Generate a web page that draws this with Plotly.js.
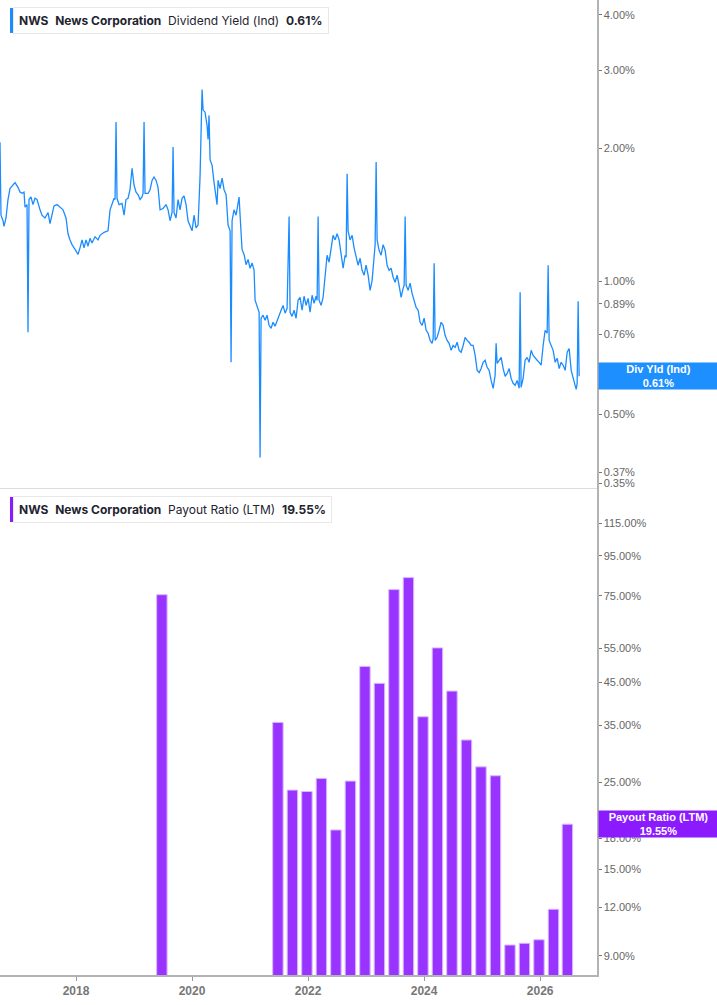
<!DOCTYPE html>
<html>
<head>
<meta charset="utf-8">
<script src="https://cdn.plot.ly/plotly-3.0.1.min.js"></script>
<style>
  html, body { margin: 0; padding: 0; background: #fff; }
  #chart { width: 717px; height: 1005px; }
</style>
</head>
<body>
<div id="chart"></div>
<script>
// Dividend yield (Ind), %, decimal years
const yieldYears = [
  2016.690,2016.707,2016.742,2016.759,2016.793,2016.828,2016.862,2016.914,2016.949,2017.000,
  2017.035,2017.069,2017.104,2017.121,2017.156,2017.173,2017.190,2017.224,2017.259,2017.293,
  2017.328,2017.380,2017.414,2017.466,2017.518,2017.552,2017.587,2017.621,2017.673,2017.724,
  2017.776,2017.828,2017.862,2017.897,2017.931,2017.983,2018.035,2018.069,2018.104,2018.138,
  2018.173,2018.207,2018.242,2018.276,2018.328,2018.380,2018.414,2018.483,2018.552,2018.587,
  2018.621,2018.656,2018.673,2018.690,2018.707,2018.742,2018.793,2018.828,2018.862,2018.897,
  2018.931,2018.966,2019.000,2019.035,2019.069,2019.104,2019.138,2019.156,2019.173,2019.190,
  2019.242,2019.276,2019.311,2019.345,2019.380,2019.414,2019.449,2019.500,2019.552,2019.587,
  2019.621,2019.656,2019.673,2019.690,2019.724,2019.759,2019.793,2019.828,2019.862,2019.897,
  2019.931,2019.966,2020.000,2020.035,2020.069,2020.104,2020.138,2020.173,2020.190,2020.224,
  2020.259,2020.276,2020.293,2020.311,2020.345,2020.380,2020.414,2020.431,2020.449,2020.483,
  2020.518,2020.552,2020.587,2020.621,2020.656,2020.673,2020.690,2020.724,2020.759,2020.793,
  2020.811,2020.828,2020.862,2020.897,2020.931,2020.966,2021.000,2021.035,2021.069,2021.087,
  2021.121,2021.156,2021.173,2021.190,2021.224,2021.259,2021.293,2021.328,2021.362,2021.397,
  2021.431,2021.466,2021.500,2021.535,2021.569,2021.604,2021.638,2021.673,2021.690,2021.724,
  2021.759,2021.793,2021.828,2021.862,2021.897,2021.931,2021.966,2022.000,2022.035,2022.069,
  2022.104,2022.138,2022.156,2022.173,2022.190,2022.224,2022.259,2022.293,2022.328,2022.362,
  2022.397,2022.431,2022.466,2022.500,2022.535,2022.569,2022.604,2022.638,2022.656,2022.673,
  2022.690,2022.724,2022.759,2022.793,2022.828,2022.862,2022.897,2022.931,2022.966,2023.000,
  2023.035,2023.069,2023.104,2023.138,2023.156,2023.173,2023.190,2023.224,2023.259,2023.293,
  2023.328,2023.362,2023.397,2023.431,2023.466,2023.500,2023.535,2023.569,2023.604,2023.638,
  2023.656,2023.673,2023.690,2023.724,2023.759,2023.793,2023.828,2023.862,2023.897,2023.931,
  2023.966,2024.000,2024.035,2024.069,2024.104,2024.138,2024.156,2024.173,2024.190,2024.224,
  2024.259,2024.293,2024.328,2024.362,2024.397,2024.431,2024.466,2024.500,2024.535,2024.569,
  2024.604,2024.638,2024.673,2024.707,2024.742,2024.776,2024.811,2024.845,2024.880,2024.914,
  2024.949,2024.983,2025.017,2025.052,2025.086,2025.121,2025.155,2025.190,2025.224,2025.241,
  2025.259,2025.293,2025.328,2025.362,2025.397,2025.431,2025.466,2025.500,2025.535,2025.569,
  2025.604,2025.638,2025.655,2025.672,2025.707,2025.741,2025.776,2025.810,2025.845,2025.879,
  2025.914,2025.948,2025.983,2026.017,2026.052,2026.086,2026.121,2026.138,2026.155,2026.190,
  2026.224,2026.259,2026.293,2026.328,2026.362,2026.397,2026.431,2026.466,2026.500,2026.535,
  2026.569,2026.604,2026.621,2026.638,2026.655,2026.672
];
const yieldPct = [
  2.06,1.41,1.37,1.33,1.39,1.53,1.62,1.65,1.67,1.63,
  1.59,1.58,1.59,1.47,1.49,0.767,1.53,1.55,1.49,1.54,
  1.53,1.45,1.41,1.39,1.43,1.35,1.41,1.48,1.49,1.47,
  1.45,1.39,1.28,1.24,1.21,1.18,1.15,1.19,1.24,1.19,
  1.24,1.20,1.25,1.22,1.26,1.24,1.27,1.29,1.30,1.45,
  1.49,1.54,1.53,2.29,1.54,1.49,1.50,1.41,1.53,1.54,
  1.61,1.80,1.65,1.59,1.57,1.53,1.55,1.58,2.29,1.58,
  1.58,1.61,1.69,1.72,1.69,1.63,1.45,1.46,1.49,1.45,
  1.37,1.43,2.01,1.43,1.39,1.53,1.45,1.54,1.56,1.49,
  1.37,1.34,1.30,1.41,1.32,1.34,1.72,2.71,2.44,2.41,
  2.25,2.09,2.37,1.88,1.83,1.67,1.57,1.49,1.69,1.62,
  1.71,1.61,1.57,1.34,1.30,0.656,1.37,1.45,1.41,1.49,
  1.55,1.41,1.18,1.15,1.09,1.12,1.07,1.10,1.06,0.906,
  0.882,0.851,0.400,0.825,0.838,0.816,0.838,0.795,0.783,0.808,
  0.791,0.816,0.833,0.860,0.882,0.847,0.869,1.40,0.851,0.833,
  0.860,0.825,0.906,0.920,0.860,0.925,0.882,0.915,0.851,0.930,
  0.892,0.925,0.906,1.40,0.906,0.882,0.920,1.016,1.145,1.104,
  1.175,1.27,1.24,1.28,1.24,1.16,1.07,1.145,1.133,1.75,
  1.30,1.24,1.27,1.19,1.145,1.087,1.127,1.059,1.032,1.087,
  1.032,0.954,1.005,1.175,1.21,1.86,1.24,1.175,1.145,1.21,
  1.175,1.087,1.059,1.07,1.021,0.995,1.032,0.979,0.920,0.964,
  0.979,1.40,0.979,0.954,0.990,0.939,0.906,0.873,0.860,0.808,
  0.795,0.825,0.775,0.763,0.735,0.724,0.743,1.098,0.735,0.747,
  0.775,0.808,0.795,0.755,0.735,0.724,0.698,0.716,0.709,0.728,
  0.698,0.691,0.716,0.747,0.735,0.728,0.716,0.716,0.680,0.629,
  0.622,0.635,0.656,0.663,0.639,0.629,0.597,0.573,0.613,0.724,
  0.652,0.663,0.673,0.635,0.610,0.619,0.635,0.603,0.588,0.582,
  0.597,0.573,0.944,0.576,0.603,0.663,0.673,0.656,0.698,0.680,
  0.670,0.663,0.656,0.646,0.716,0.775,0.763,1.087,0.735,0.716,
  0.698,0.656,0.670,0.635,0.656,0.646,0.629,0.691,0.705,0.629,
  0.603,0.582,0.570,0.588,0.901,0.61
];

// Payout ratio (LTM), % - quarterly bars
const payoutYears = [2019.48, 2021.48, 2021.73, 2021.98, 2022.23, 2022.48, 2022.73, 2022.98,
  2023.23, 2023.48, 2023.73, 2023.98, 2024.23, 2024.48, 2024.73, 2024.98,
  2025.23, 2025.48, 2025.73, 2025.98, 2026.23, 2026.47];
const payoutPct = [75.5, 35.6, 23.9, 23.7, 25.6, 18.9, 25.2, 49.5,
  44.8, 77.8, 83.5, 36.8, 55.2, 42.8, 32.1, 27.4,
  26.0, 9.6, 9.7, 9.9, 11.85, 19.55];

// axis ticks
const yieldTicks = [4, 3, 2, 1, 0.89, 0.76, 0.63, 0.5, 0.37, 0.35];
const payoutTicks = [115, 95, 75, 55, 45, 35, 25, 18, 15, 12, 9];
const yearTicks = [2018, 2020, 2022, 2024, 2026];

const blue = '#1a8cff';
const purple = '#9933ff';
const pct = v => v.toFixed(2) + '%';

const tickFont = {family: 'Liberation Sans, Arial, sans-serif', size: 11, color: '#666'};
const xRange = [2016.69, 2026.98];

const traces = [
  {
    x: yieldYears, y: yieldPct, xaxis: 'x', yaxis: 'y',
    type: 'scatter', mode: 'lines',
    line: {color: blue, width: 1.3},
    hoverinfo: 'skip'
  },
  {
    x: payoutYears, y: payoutPct, xaxis: 'x2', yaxis: 'y2',
    type: 'bar', width: 0.18,
    marker: {color: purple, line: {color: '#d9b8ff', width: 1}},
    hoverinfo: 'skip'
  }
];

const legendFont = {family: 'Inter, Noto Sans, sans-serif', size: 12, color: '#1f2430'};
const sp = '&nbsp;&nbsp;';

const layout = {
  width: 717, height: 1005,
  margin: {l: 0, r: 120, t: 0, b: 30},
  paper_bgcolor: '#fff', plot_bgcolor: '#fff',
  showlegend: false,
  xaxis: {
    domain: [0, 1], anchor: 'y', range: xRange,
    showticklabels: false, ticks: '', showgrid: false, zeroline: false,
    showline: true, linecolor: '#dddddd', linewidth: 1
  },
  yaxis: {
    domain: [0.5, 1], anchor: 'x', type: 'log', range: [-0.466, 0.6355],
    side: 'right', showgrid: false, zeroline: false,
    showline: true, linecolor: '#b3b3b3', linewidth: 1.5,
    ticks: 'outside', ticklen: 3, tickcolor: '#777',
    tickvals: yieldTicks, ticktext: yieldTicks.map(pct), tickfont: tickFont
  },
  xaxis2: {
    domain: [0, 1], anchor: 'y2', range: xRange,
    tickvals: yearTicks, ticktext: yearTicks.map(String),
    tickfont: {family: 'Liberation Sans, Arial, sans-serif', size: 12, color: '#777', weight: 'bold'},
    ticks: 'outside', ticklen: 4, tickcolor: '#999',
    showgrid: false, zeroline: false,
    showline: true, linecolor: '#b3b3b3', linewidth: 1.5
  },
  yaxis2: {
    domain: [0, 0.5], anchor: 'x2', type: 'log', range: [0.9056, 2.152],
    side: 'right', showgrid: false, zeroline: false,
    showline: true, linecolor: '#b3b3b3', linewidth: 1.5,
    ticks: 'outside', ticklen: 3, tickcolor: '#777',
    tickvals: payoutTicks, ticktext: payoutTicks.map(pct), tickfont: tickFont
  },
  shapes: [
    {type: 'rect', xref: 'paper', yref: 'paper', x0: 10 / 597, x1: 13.5 / 597, y0: 0.9662, y1: 0.9918,
      fillcolor: blue, line: {width: 0}},
    {type: 'rect', xref: 'paper', yref: 'paper', x0: 10 / 597, x1: 13.5 / 597, y0: 0.4646, y1: 0.4903,
      fillcolor: '#8c1aff', line: {width: 0}}
  ],
  annotations: [
    {xref: 'paper', yref: 'paper', x: 13 / 597, y: 0.979, xanchor: 'left', yanchor: 'middle',
      text: '<b>NWS</b>' + sp + '<b>News Corporation</b>' + sp + 'Dividend Yield (Ind)' + sp + '<b>0.61%</b>',
      showarrow: false, font: legendFont, bgcolor: '#fff', bordercolor: '#e8e8e8', borderwidth: 1, borderpad: 5},
    {xref: 'paper', yref: 'paper', x: 13 / 597, y: 0.4774, xanchor: 'left', yanchor: 'middle',
      text: '<b>NWS</b>' + sp + '<b>News Corporation</b>' + sp + 'Payout Ratio (LTM)' + sp + '<b>19.55%</b>',
      showarrow: false, font: legendFont, bgcolor: '#fff', bordercolor: '#e8e8e8', borderwidth: 1, borderpad: 5},
    {xref: 'paper', yref: 'y', x: 1, y: Math.log10(0.61), xanchor: 'left', yanchor: 'middle', xshift: 1,
      text: '<b>Div Yld (Ind)</b><br><b>0.61%</b>', showarrow: false,
      font: {family: 'Liberation Sans, Arial, sans-serif', size: 11, color: '#fff'},
      bgcolor: '#1e8fff', width: 117, height: 24, borderpad: 1, align: 'center'},
    {xref: 'paper', yref: 'y2', x: 1, y: Math.log10(19.55), xanchor: 'left', yanchor: 'middle', xshift: 1,
      text: '<b>Payout Ratio (LTM)</b><br><b>19.55%</b>', showarrow: false,
      font: {family: 'Liberation Sans, Arial, sans-serif', size: 11, color: '#fff'},
      bgcolor: '#8c1aff', width: 117, height: 24, borderpad: 1, align: 'center'}
  ]
};

Plotly.newPlot('chart', traces, layout, {staticPlot: true, displayModeBar: false});
</script>
</body>
</html>
